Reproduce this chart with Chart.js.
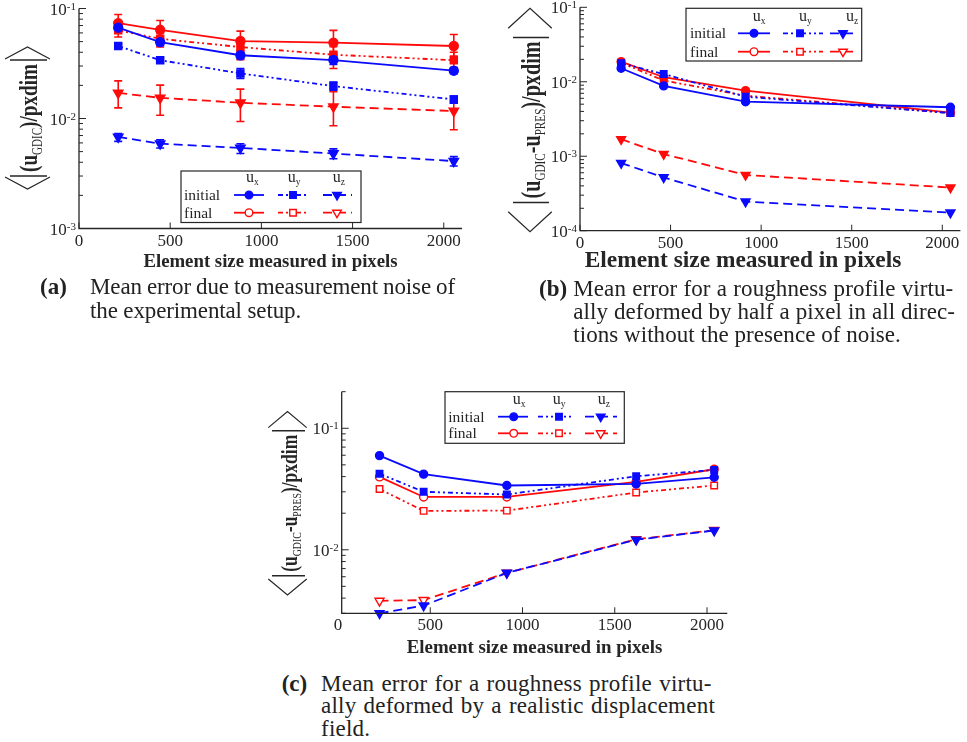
<!DOCTYPE html>
<html><head><meta charset="utf-8">
<title>Mean error versus element size</title>
<script src="https://cdn.jsdelivr.net/npm/chart.js@4.4.1/dist/chart.umd.min.js"></script>
<style>
html,body{margin:0;padding:0;background:#fff}
body{width:967px;height:742px;position:relative;overflow:hidden}
canvas{position:absolute}
.cap{position:absolute;font-family:"Liberation Serif","Times New Roman",serif;font-size:23px;line-height:22px;color:#222;white-space:nowrap;letter-spacing:0;word-spacing:0}
.lab{font-weight:bold}
</style></head><body>
<canvas id="cA" width="480" height="280" style="left:0;top:0"></canvas>
<canvas id="cB" width="477" height="280" style="left:490px;top:0"></canvas>
<canvas id="cC" width="500" height="285" style="left:250px;top:380px"></canvas>

<div class="cap lab" style="left:40px;top:276.2px">(a)</div>
<div class="cap j" data-w="365" style="left:90px;top:276.2px">Mean error due to measurement noise of</div>
<div class="cap last" style="left:90px;top:299.5px">the experimental setup.</div>

<div class="cap lab" style="left:539px;top:277.9px">(b)</div>
<div class="cap j" data-w="380" style="left:573.3px;top:277.9px">Mean error for a roughness profile virtu-</div>
<div class="cap j" data-w="381.7" style="left:573.3px;top:300.7px">ally deformed by half a pixel in all direc-</div>
<div class="cap last" style="left:573.3px;top:323.5px">tions without the presence of noise.</div>

<div class="cap lab" style="left:281.7px;top:672.7px">(c)</div>
<div class="cap j" data-w="390.7" style="left:321px;top:672.7px">Mean error for a roughness profile virtu-</div>
<div class="cap j" data-w="394" style="left:321px;top:695.2px">ally deformed by a realistic displacement</div>
<div class="cap last" style="left:321px;top:717.7px">field.</div>

<script>
// ---------------- DATA ----------------
const xTicks = [0, 500, 1000, 1500, 2000];
const yDecA = [-3, -2, -1];
const yDecB = [-4, -3, -2, -1];
const yDecC = [-2, -1];
const components = ['ux', 'uy', 'uz'];
const stages = ['initial', 'final'];

// (a) measurement noise
const xA = [215, 445, 885, 1395, 2055];
const aInitUx = [0.067, 0.0495, 0.0376, 0.034, 0.0272];
const aInitUy = [0.0456, 0.0339, 0.0257, 0.0197, 0.0149];
const aInitUz = [0.0068, 0.0059, 0.0054, 0.0048, 0.0041];
const aFinUx = [0.0737, 0.064, 0.0506, 0.049, 0.0456];
const aFinUy = [0.0633, 0.053, 0.0446, 0.038, 0.0339];
const aFinUz = [0.0171, 0.0154, 0.0139, 0.0128, 0.0117];
const aInitUxLo = [0.063, 0.046, 0.0348, 0.031, 0.0255];
const aInitUxHi = [0.071, 0.053, 0.040, 0.037, 0.029];
const aInitUyLo = [0.0435, 0.0322, 0.0231, 0.018, 0.0138];
const aInitUyHi = [0.0478, 0.0357, 0.0285, 0.0215, 0.016];
const aInitUzLo = [0.0062, 0.0054, 0.0048, 0.0043, 0.0037];
const aInitUzHi = [0.0073, 0.0064, 0.0059, 0.0053, 0.0045];
const aFinUxLo = [0.062, 0.053, 0.041, 0.039, 0.037];
const aFinUxHi = [0.0883, 0.0778, 0.0623, 0.0632, 0.058];
const aFinUyLo = [0.055, 0.0447, 0.0343, 0.0285, 0.029];
const aFinUyHi = [0.072, 0.06, 0.052, 0.045, 0.04];
const aFinUzLo = [0.0125, 0.0107, 0.0094, 0.0086, 0.0079];
const aFinUzHi = [0.022, 0.0201, 0.0185, 0.0175, 0.0145];

// (b) half pixel, no noise
const xB = [227, 462, 914, 2045];
const bInitUx = [0.0152, 0.0088, 0.0054, 0.00455];
const bInitUy = [0.0177, 0.0127, 0.0063, 0.0038];
const bInitUz = [0.00081, 0.00052, 0.000246, 0.000175];
const bFinUx = [0.0186, 0.0115, 0.0076, 0.00385];
const bFinUy = [0.018, 0.0104, 0.0065, 0.0038];
const bFinUz = [0.00169, 0.00107, 0.00056, 0.00038];

// (c) realistic displacement field
const xC = [225, 464, 915, 1616, 2039];
const cInitUx = [0.0596, 0.0419, 0.0338, 0.0348, 0.0395];
const cInitUy = [0.0423, 0.030, 0.0285, 0.0403, 0.0454];
const cInitUz = [0.0030, 0.00347, 0.00645, 0.0121, 0.0144];
const cFinUx = [0.0398, 0.0272, 0.0272, 0.0362, 0.046];
const cFinUy = [0.0316, 0.0209, 0.021, 0.0296, 0.0338];
const cFinUz = [0.0038, 0.00385, 0.00645, 0.0122, 0.0145];

const xTitleText = 'Element size measured in pixels';
const yPartsA = [{t:'(u'},{t:'GDIC',s:1},{t:')/pxdim'}];
const yPartsBC = [{t:'(u'},{t:'GDIC',s:1},{t:'-u'},{t:'PRES',s:1},{t:')/pxdim'}];

// ---------------- STYLE ----------------
const INK = '#262626';
const BLUE = '#0a0aff';
const RED = '#ff0a0a';
const SERIF = '"Liberation Serif","Times New Roman",serif';
const STY = {
  ux: {style:'circle', rot:0, dash:[]},
  uy: {style:'rect', rot:0, dash:[5,3,2,3,2,3]},
  uz: {style:'triangle', rot:180, dash:[9,5]}
};

const PANELS = {
  cA: {
    xs: xA, xmin: 0, xmax: 2100, ymin: 1e-3, ymax: 1e-1, yDec: yDecA,
    pad: {left:79, top:8.5, right:18, bottom:51.5},
    finalFilled: true, lw: 1.8, r: {ux:4.5, uy:5, uz:5.5},
    series: {initial:{ux:aInitUx, uy:aInitUy, uz:aInitUz}, final:{ux:aFinUx, uy:aFinUy, uz:aFinUz}},
    err: {
      initial:{ux:[aInitUxLo,aInitUxHi], uy:[aInitUyLo,aInitUyHi], uz:[aInitUzLo,aInitUzHi]},
      final:{ux:[aFinUxLo,aFinUxHi], uy:[aFinUyLo,aFinUyHi], uz:[aFinUzLo,aFinUzHi]}
    },
    xTitle: {size:18.8, cx:270.5, dy:38.5},
    yTitle: {cx:27.5, cy:118, apex:71, depth:12, halfW:22.5, bar:58, barH:18.5, barOff:1, len:108, font:26, sub:15, subDrop:5, v:9, parts:yPartsA},
    legend: {box:[181,171,361,222.5], hy:178, hx:{ux:250, uy:291.7, uz:336.7}, rows:[195,212.7], tx:184,
             seg:{ux:[234,264,249], uy:[278,308,293], uz:[323,352,337]}, font:15.5, mr:{ux:3.8, uy:4.6, uz:5}}
  },
  cB: {
    xs: xB, xmin: 0, xmax: 2100, ymin: 1e-4, ymax: 1e-1, yDec: yDecB,
    pad: {left:90, top:7.3, right:2, bottom:49.3},
    finalFilled: true, lw: 1.8, r: {ux:4, uy:4.6, uz:5.2},
    series: {initial:{ux:bInitUx, uy:bInitUy, uz:bInitUz}, final:{ux:bFinUx, uy:bFinUy, uz:bFinUz}},
    err: null,
    xTitle: {size:23.4, cx:253, dy:36},
    yTitle: {cx:40, cy:120, apex:111.7, depth:20, halfW:21.8, bar:82.5, barH:18, barOff:1, len:157, font:27, sub:15, subDrop:5, v:10, parts:yPartsBC},
    legend: {box:[196,8.3,371.7,61], hy:17.3, hx:{ux:266.7, uy:313, uz:360}, rows:[33.3,51.7], tx:200,
             seg:{ux:[248,280,264], uy:[293,333,310], uz:[340,367,353]}, font:15.5, mr:{ux:3.8, uy:4.6, uz:5}}
  },
  cC: {
    xs: xC, xmin: 20, xmax: 2110, ymin: 0.003, ymax: 0.2, yDec: yDecC,
    pad: {left:91.7, top:11.7, right:22.7, bottom:51.7},
    finalFilled: false, lw: 1.8, r: {ux:4, uy:4.6, uz:5.2},
    series: {initial:{ux:cInitUx, uy:cInitUy, uz:cInitUz}, final:{ux:cFinUx, uy:cFinUy, uz:cFinUz}},
    err: null,
    xTitle: {size:18.9, cx:284.5, dy:40},
    yTitle: {cx:37.5, cy:123.3, apex:91.7, depth:16, halfW:19.2, bar:72.5, barH:16.5, barOff:1, len:137, font:24, sub:13.5, subDrop:4.5, v:9, parts:yPartsBC},
    legend: {box:[195,11.7,374.3,63.3], hy:20, hx:{ux:266.7, uy:306.7, uz:351.7}, rows:[36.7,53.3], tx:198.3,
             seg:{ux:[248,278,263.7], uy:[288,323,309], uz:[335,367,350.7]}, font:15.5, mr:{ux:3.8, uy:4.6, uz:5}}
  }
};

// ---------------- CAPTION FIT ----------------
(function fitCaptions() {
  let lastLs = 0;
  document.querySelectorAll('.cap').forEach(el => {
    if (el.classList.contains('j')) {
      const target = parseFloat(el.dataset.w);
      const w = el.getBoundingClientRect().width;
      const txt = el.textContent;
      const nSp = (txt.match(/ /g) || []).length;
      const nCh = txt.length;
      const extra = target - w;
      const ls = extra * 0.6 / nCh;
      el.style.letterSpacing = ls + 'px';
      const w2 = el.getBoundingClientRect().width;
      if (nSp) el.style.wordSpacing = ((target - w2) / nSp) + 'px';
      lastLs = ls;
    } else if (el.classList.contains('last')) {
      el.style.letterSpacing = lastLs + 'px';
    }
  });
})();

// ---------------- HELPERS ----------------
function marker(ctx, style, x, y, r, filled, col) {
  ctx.save();
  ctx.setLineDash([]);
  ctx.lineWidth = 1.4;
  ctx.strokeStyle = col;
  ctx.fillStyle = filled ? col : '#fff';
  ctx.beginPath();
  if (style === 'circle') ctx.arc(x, y, r, 0, Math.PI * 2);
  else if (style === 'rect') { const s = r * Math.SQRT1_2; ctx.rect(x - s, y - s, 2 * s, 2 * s); }
  else {
    for (let i = 0; i < 3; i++) {
      const ang = Math.PI + i * 2 * Math.PI / 3;
      const px = x + Math.sin(ang) * r, py = y - Math.cos(ang) * r;
      if (i) ctx.lineTo(px, py); else ctx.moveTo(px, py);
    }
    ctx.closePath();
  }
  ctx.fill(); ctx.stroke();
  ctx.restore();
}

function drawYTitle(ctx, T) {
  ctx.save();
  ctx.translate(T.cx, T.cy);
  ctx.rotate(-Math.PI / 2);
  ctx.strokeStyle = INK; ctx.setLineDash([]);
  ctx.lineWidth = 1.2;
  ctx.beginPath();
  [-1, 1].forEach(sg => {
    const ap = sg * T.apex, end = sg * (T.apex - T.depth);
    ctx.moveTo(end, -T.halfW); ctx.lineTo(ap, 0); ctx.lineTo(end, T.halfW);
  });
  ctx.stroke();
  ctx.lineWidth = 1.6;
  ctx.beginPath();
  [-1, 1].forEach(sg => {
    ctx.moveTo(sg * T.bar, T.barOff - T.barH); ctx.lineTo(sg * T.bar, T.barOff + T.barH);
  });
  ctx.stroke();
  const fMain = 'bold ' + T.font + 'px ' + SERIF, fSub = T.sub + 'px ' + SERIF;
  let W = 0;
  const ws = T.parts.map(p => { ctx.font = p.s ? fSub : fMain; const w = ctx.measureText(p.t).width; W += w; return w; });
  const s = T.len / W;
  ctx.scale(s, 1);
  let u = -W / 2;
  ctx.fillStyle = INK; ctx.textAlign = 'left'; ctx.textBaseline = 'alphabetic';
  T.parts.forEach((p, i) => {
    ctx.font = p.s ? fSub : fMain;
    ctx.fillText(p.t, u, T.v + (p.s ? T.subDrop : 0));
    u += ws[i];
  });
  ctx.restore();
}

const figPlugin = {
  id: 'fig',
  beforeDatasetsDraw(chart) {
    const ctx = chart.ctx, X = chart.scales.x, Y = chart.scales.y;
    ctx.save();
    ctx.setLineDash([]);
    ctx.lineWidth = 1.6;
    chart.data.datasets.forEach(d => {
      if (!d.errLo) return;
      ctx.strokeStyle = d.borderColor;
      ctx.beginPath();
      d.data.forEach((p, j) => {
        const px = X.getPixelForValue(p.x);
        const y1 = Y.getPixelForValue(d.errLo[j]), y2 = Y.getPixelForValue(d.errHi[j]);
        ctx.moveTo(px, y1); ctx.lineTo(px, y2);
        ctx.moveTo(px - 4, y1); ctx.lineTo(px + 4, y1);
        ctx.moveTo(px - 4, y2); ctx.lineTo(px + 4, y2);
      });
      ctx.stroke();
    });
    ctx.restore();
  },
  afterDatasetsDraw(chart) {
    const cfg = PANELS[chart.canvas.id];
    const ctx = chart.ctx, a = chart.chartArea, X = chart.scales.x, Y = chart.scales.y;
    ctx.save();
    ctx.setLineDash([]);
    ctx.strokeStyle = INK; ctx.fillStyle = INK;
    ctx.lineWidth = 1.3;
    ctx.beginPath();
    ctx.moveTo(a.left, a.top); ctx.lineTo(a.left, a.bottom); ctx.lineTo(a.right, a.bottom);
    ctx.stroke();
    ctx.lineWidth = 1;
    ctx.beginPath();
    const e0 = Math.floor(Math.log10(cfg.ymin)), e1 = Math.ceil(Math.log10(cfg.ymax));
    for (let e = e0; e <= e1; e++) {
      for (let k = 1; k <= 9; k++) {
        const v = k * Math.pow(10, e);
        if (v < cfg.ymin * 0.999 || v > cfg.ymax * 1.001) continue;
        const py = Y.getPixelForValue(v);
        const len = k === 1 ? 7 : 4;
        ctx.moveTo(a.left, py); ctx.lineTo(a.left + len, py);
      }
    }
    xTicks.forEach(v => {
      if (v < cfg.xmin || v > cfg.xmax) return;
      const px = X.getPixelForValue(v);
      ctx.moveTo(px, a.bottom); ctx.lineTo(px, a.bottom - 6);
    });
    ctx.stroke();
    ctx.textBaseline = 'alphabetic'; ctx.textAlign = 'right';
    cfg.yDec.forEach(e => {
      const py = Y.getPixelForValue(Math.pow(10, e));
      ctx.font = '11px ' + SERIF;
      const exp = String(e);
      ctx.fillText(exp, a.left - 3, py + 1);
      const w = ctx.measureText(exp).width;
      ctx.font = '17px ' + SERIF;
      ctx.fillText('10', a.left - 3 - w, py + 6);
    });
    ctx.textAlign = 'center';
    ctx.font = '17px ' + SERIF;
    xTicks.forEach(v => {
      ctx.fillText(String(v), X.getPixelForValue(v), a.bottom + 17);
    });
    ctx.font = 'bold ' + cfg.xTitle.size + 'px ' + SERIF;
    ctx.fillText(xTitleText, cfg.xTitle.cx, a.bottom + cfg.xTitle.dy);
    ctx.restore();
    drawYTitle(ctx, cfg.yTitle);
    const L = cfg.legend;
    ctx.save();
    ctx.setLineDash([]);
    ctx.fillStyle = '#fff';
    ctx.fillRect(L.box[0], L.box[1], L.box[2] - L.box[0], L.box[3] - L.box[1]);
    ctx.strokeStyle = INK; ctx.lineWidth = 1.2;
    ctx.strokeRect(L.box[0], L.box[1], L.box[2] - L.box[0], L.box[3] - L.box[1]);
    ctx.fillStyle = INK; ctx.textBaseline = 'alphabetic';
    components.forEach(c => {
      ctx.font = '16px ' + SERIF; ctx.textAlign = 'center';
      ctx.fillText('u', L.hx[c], L.hy + 4);
      ctx.font = '9.5px ' + SERIF; ctx.textAlign = 'left';
      ctx.fillText(c.slice(1), L.hx[c] + 4, L.hy + 7);
    });
    ctx.font = L.font + 'px ' + SERIF; ctx.textAlign = 'left';
    stages.forEach((st, i) => ctx.fillText(st, L.tx, L.rows[i] + 5));
    stages.forEach((st, i) => {
      const col = st === 'initial' ? BLUE : RED;
      const y = L.rows[i];
      components.forEach(c => {
        const sg = L.seg[c];
        ctx.save();
        ctx.strokeStyle = col; ctx.lineWidth = cfg.lw; ctx.setLineDash(STY[c].dash);
        ctx.beginPath(); ctx.moveTo(sg[0], y); ctx.lineTo(sg[1], y); ctx.stroke();
        ctx.restore();
        marker(ctx, STY[c].style, sg[2], y, L.mr[c], st === 'initial', col);
      });
    });
    ctx.restore();
  }
};

function makeDatasets(cfg) {
  const out = [];
  stages.forEach(st => {
    components.forEach(c => {
      const col = st === 'initial' ? BLUE : RED;
      const filled = st === 'initial' || cfg.finalFilled;
      const ys = cfg.series[st][c];
      const e = cfg.err ? cfg.err[st][c] : null;
      out.push({
        label: st + ' ' + c,
        data: cfg.xs.map((x, i) => ({x: x, y: ys[i]})),
        borderColor: col, backgroundColor: col,
        borderWidth: cfg.lw, borderDash: STY[c].dash,
        pointStyle: STY[c].style, pointRotation: STY[c].rot,
        pointRadius: cfg.r[c], pointHoverRadius: cfg.r[c],
        pointBackgroundColor: filled ? col : '#fff',
        pointBorderColor: col, pointBorderWidth: 1.4,
        tension: 0, fill: false, clip: false,
        errLo: e ? e[0] : null, errHi: e ? e[1] : null
      });
    });
  });
  return out;
}

Object.keys(PANELS).forEach(id => {
  const cfg = PANELS[id];
  new Chart(document.getElementById(id), {
    type: 'line',
    data: {datasets: makeDatasets(cfg)},
    options: {
      responsive: false, animation: false, devicePixelRatio: 1,
      layout: {padding: cfg.pad},
      plugins: {legend: {display: false}, tooltip: {enabled: false}},
      scales: {
        x: {type: 'linear', min: cfg.xmin, max: cfg.xmax, display: false},
        y: {type: 'logarithmic', min: cfg.ymin, max: cfg.ymax, display: false}
      }
    },
    plugins: [figPlugin]
  });
});
</script>
</body></html>
